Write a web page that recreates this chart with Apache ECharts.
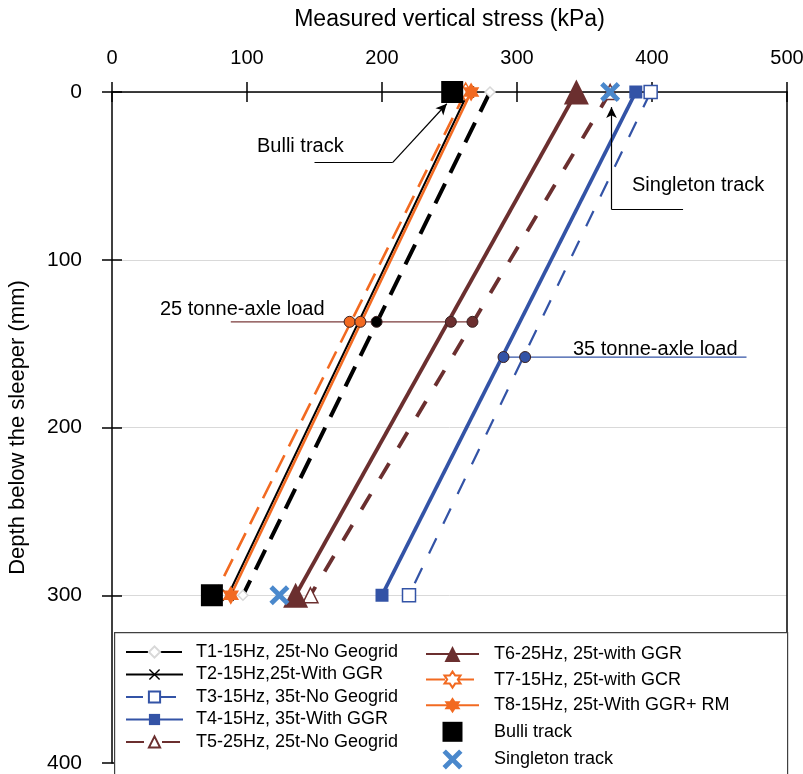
<!DOCTYPE html>
<html>
<head>
<meta charset="utf-8">
<title>Measured vertical stress</title>
<script src="https://cdn.jsdelivr.net/npm/echarts@6/dist/echarts.min.js"></script>
<style>
    html, body { margin: 0; padding: 0; background: #fff; }
    #main { width: 803px; height: 774px; }
</style>
</head>
<body>
<div id="main"></div>
<script>
'use strict';

// depth below the sleeper (mm) of the two pressure cells
var depths = [0, 300];

// measured vertical stress (kPa) at each depth
var t1 = [280, 97];
var t2 = [264, 86];
var t3 = [399, 220];
var t4 = [388, 200];
var t5 = [369, 147];
var t6 = [344, 136];
var t7 = [262, 76];
var t8 = [266, 88];
var bulli = [252, 74];
var singleton = [369, 124];

// axle load read-outs
var load25Depth = 137;
var load25Line = [88, 267];
var load25Points = [176, 184, 196, 251, 267];
var load35Depth = 158;
var load35Line = [288, 470];
var load35Points = [290, 306];

// leader lines for the track labels [kPa, mm]
var bulliLeader = [[150, 42], [208, 42], [248, 7]];
var singletonLeader = [[423, 70], [370, 70], [370, 9]];

var names = [
    'T1-15Hz, 25t-No Geogrid',
    'T2-15Hz,25t-With GGR',
    'T3-15Hz, 35t-No Geogrid',
    'T4-15Hz, 35t-With GGR',
    'T5-25Hz, 25t-No Geogrid',
    'T6-25Hz, 25t-with GGR',
    'T7-15Hz, 25t-with GCR',
    'T8-15Hz, 25t-With GGR+ RM',
    'Bulli track',
    'Singleton track'
];

var BLACK = '#000000';
var BLUE = '#3353a6';
var BROWN = '#6b2f2f';
var ORANGE = '#f26a21';
var LIGHTBLUE = '#4a88cc';
var FONT = 'Liberation Sans, Arial, sans-serif';

// six pointed star
function hexagram() {
    var p = [];
    for (var i = 0; i < 12; i++) {
        var a = (-90 + i * 30) * Math.PI / 180;
        var r = i % 2 === 0 ? 50 : 50 / Math.sqrt(3);
        p.push((50 + r * Math.cos(a)).toFixed(2) + ' ' + (50 + r * Math.sin(a)).toFixed(2));
    }
    return 'path://M' + p.join(' L') + ' Z';
}
// X shape, t = arm offset
function cross(t) {
    var a = t, b = 50 - t, c = 50 + t, d = 100 - t;
    return 'path://M0 ' + a + ' L' + a + ' 0 L50 ' + b + ' L' + d + ' 0 L100 ' + a + ' L' + c + ' 50 L100 ' + d +
        ' L' + d + ' 100 L50 ' + c + ' L' + a + ' 100 L0 ' + d + ' L' + b + ' 50 Z';
}
var STAR = hexagram();
var SQUARE = 'path://M0 0 L100 0 L100 100 L0 100 Z';

function pairs(values) {
    return depths.map(function (d, i) { return [values[i], d]; });
}

function trial(name, values, color, width, dash, symbol, size, fill, border) {
    return {
        name: name,
        type: 'line',
        data: pairs(values),
        symbol: symbol,
        symbolSize: size,
        symbolKeepAspect: true,
        lineStyle: { color: color, width: width, type: dash || 'solid' },
        itemStyle: { color: fill, borderColor: border, borderWidth: border ? 1.5 : 0, opacity: 1 },
        emphasis: { disabled: true },
        z: 2
    };
}

var series = [
    trial(names[0], t1, BLACK, 4, [22, 12], 'diamond', 10, '#ffffff', '#d8d8d8'),
    trial(names[1], t2, BLACK, 2, null, cross(9), 12, BLACK, null),
    trial(names[2], t3, BLUE, 2.2, [17, 16], 'rect', 13, '#ffffff', BLUE),
    trial(names[3], t4, BLUE, 3.8, null, 'rect', 13, BLUE, null),
    trial(names[4], t5, BROWN, 3.8, [18, 18], 'triangle', 15, '#ffffff', BROWN),
    trial(names[5], t6, BROWN, 3.8, null, 'triangle', 25, BROWN, null),
    trial(names[6], t7, ORANGE, 2.6, [19, 10], STAR, 18, '#ffffff', ORANGE),
    trial(names[7], t8, ORANGE, 2.6, null, STAR, 19, ORANGE, null),
    {
        name: names[8],
        type: 'scatter',
        data: pairs(bulli),
        symbol: SQUARE,
        symbolSize: 22,
        itemStyle: { color: BLACK, opacity: 1 },
        emphasis: { disabled: true },
        z: 3
    },
    {
        name: names[9],
        type: 'scatter',
        data: pairs(singleton),
        symbol: cross(17),
        symbolSize: 20,
        itemStyle: { color: LIGHTBLUE, opacity: 1 },
        emphasis: { disabled: true },
        z: 3
    }
];

// axle load read-out lines with their dots
function readout(range, depth, points, colors, lineColor) {
    series.push({
        type: 'line',
        data: range.map(function (v) { return [v, depth]; }),
        symbol: 'none',
        lineStyle: { color: lineColor, width: 1.2 },
        emphasis: { disabled: true },
        z: 4
    });
    series.push({
        type: 'scatter',
        data: points.map(function (v, i) {
            return { value: [v, depth], itemStyle: { color: colors[i] } };
        }),
        symbolSize: 11,
        itemStyle: { borderColor: '#3a2020', borderWidth: 1, opacity: 1 },
        emphasis: { disabled: true },
        z: 5
    });
}
readout(load25Line, load25Depth, load25Points, [ORANGE, ORANGE, BLACK, BROWN, BROWN], '#7b3b3b');
readout(load35Line, load35Depth, load35Points, [BLUE, BLUE], BLUE);

// leader lines with arrow heads
function leader(pts) {
    return [
        [{ coord: pts[0], symbol: 'none' }, { coord: pts[1], symbol: 'none' }],
        [{ coord: pts[1], symbol: 'none' }, { coord: pts[2], symbol: 'arrow' }]
    ];
}
series.push({
    type: 'line',
    data: [],
    markLine: {
        silent: true,
        animation: false,
        symbolSize: [8, 11],
        label: { show: false },
        lineStyle: { color: BLACK, width: 1.2, type: 'solid' },
        data: leader(bulliLeader).concat(leader(singletonLeader))
    }
});

var tick = { color: BLACK, width: 1.5 };

var option = {
    backgroundColor: '#ffffff',
    animation: false,
    textStyle: { fontFamily: FONT },
    grid: { left: 112, right: 16, top: 92, bottom: 11, outerBoundsMode: 'none', containLabel: false },
    xAxis: [
        {
            type: 'value', position: 'top', min: 0, max: 500, interval: 100,
            name: 'Measured vertical stress (kPa)', nameLocation: 'middle', nameGap: 61,
            nameTextStyle: { fontSize: 23, color: BLACK, fontFamily: FONT },
            axisLine: { show: true, onZero: false, lineStyle: tick },
            axisTick: { show: true, inside: false, length: 10, lineStyle: tick },
            axisLabel: { fontSize: 20, color: BLACK, margin: 24, fontFamily: FONT },
            splitLine: { show: false }
        },
        {
            type: 'value', position: 'top', min: 0, max: 500, interval: 100,
            axisLine: { show: false },
            axisTick: { show: true, inside: true, length: 10, lineStyle: tick },
            axisLabel: { show: false },
            splitLine: { show: false }
        }
    ],
    yAxis: [
        {
            type: 'value', inverse: true, position: 'left', min: 0, max: 400, interval: 100,
            name: 'Depth below the sleeper (mm)', nameLocation: 'middle', nameGap: 83, nameRotate: 90,
            nameTextStyle: { fontSize: 22, color: BLACK, fontFamily: FONT },
            axisLine: { show: true, onZero: false, lineStyle: tick },
            axisTick: { show: true, inside: false, length: 10, lineStyle: tick },
            axisLabel: { fontSize: 21, color: BLACK, margin: 30, fontFamily: FONT },
            splitLine: { show: true, lineStyle: { color: '#d9d9d9', width: 1 } }
        },
        {
            type: 'value', inverse: true, position: 'left', min: 0, max: 400, interval: 100,
            axisLine: { show: false },
            axisTick: { show: true, inside: true, length: 10, lineStyle: tick },
            axisLabel: { show: false },
            splitLine: { show: false }
        },
        {
            type: 'value', inverse: true, position: 'right', min: 0, max: 400, interval: 100,
            axisLine: { show: true, onZero: false, lineStyle: tick },
            axisTick: { show: false },
            axisLabel: { show: false },
            splitLine: { show: false }
        }
    ],
    legend: [
        {
            data: names.slice(0, 5),
            orient: 'vertical',
            left: 125, top: 643, padding: 0,
            itemWidth: 57, itemHeight: 14, itemGap: 4.5,
            textStyle: { fontSize: 18, color: BLACK, fontFamily: FONT, padding: [0, 0, 0, 8] },
            selectedMode: false,
            z: 10
        },
        {
            data: names.slice(5, 8).concat([
                { name: names[8], icon: SQUARE },
                { name: names[9], icon: cross(17) }
            ]),
            orient: 'vertical',
            left: 425, top: 645, padding: 0,
            itemWidth: 53, itemHeight: 20, itemGap: 7.6,
            textStyle: { fontSize: 18, color: BLACK, fontFamily: FONT, padding: [0, 0, 0, 10] },
            selectedMode: false,
            z: 10
        }
    ],
    graphic: [
        {
            type: 'rect', left: 114, top: 632, z: 8,
            shape: { width: 673, height: 150 },
            style: { fill: '#ffffff', stroke: '#404040', lineWidth: 1.2 }
        },
        {
            type: 'text', left: 257, top: 136, z: 9,
            style: { text: 'Bulli track', font: '20px ' + FONT, fill: BLACK }
        },
        {
            type: 'text', left: 632, top: 175, z: 9,
            style: { text: 'Singleton track', font: '20px ' + FONT, fill: BLACK }
        },
        {
            type: 'text', left: 160, top: 299, z: 9,
            style: { text: '25 tonne-axle load', font: '20px ' + FONT, fill: BLACK }
        },
        {
            type: 'text', left: 573, top: 339, z: 9,
            style: { text: '35 tonne-axle load', font: '20px ' + FONT, fill: BLACK }
        }
    ],
    series: series
};

var myChart = echarts.init(document.getElementById('main'));
myChart.setOption(option);
</script>
</body>
</html>
